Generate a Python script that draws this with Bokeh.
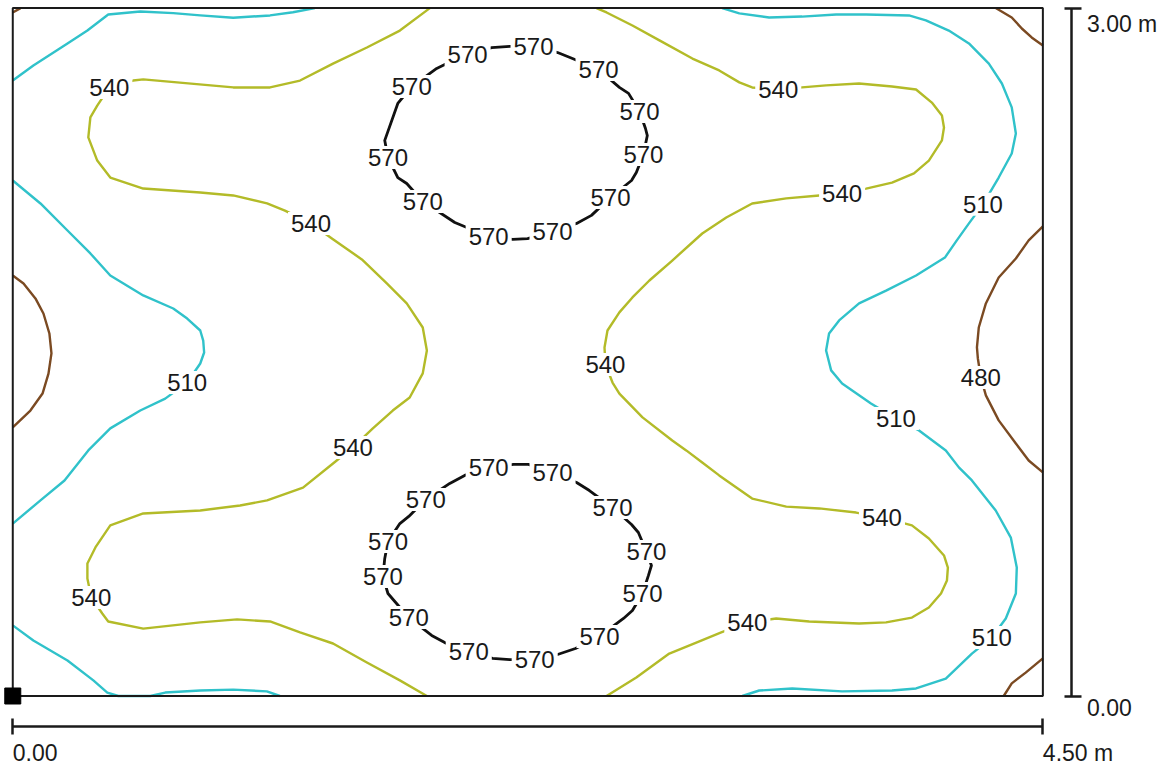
from bokeh.plotting import figure
from bokeh.models import Range1d, LinearAxis, FixedTicker, ColumnDataSource
from bokeh.core.properties import value
from bokeh.embed import file_html
from bokeh.resources import INLINE

# Room size (m)
room_width = 4.50
room_depth = 3.00

# Scale bar ticks and their labels
x_ticks = [0.0, 4.50]
x_tick_labels = ["0.00", "4.50 m"]
y_ticks = [0.0, 3.00]
y_tick_labels = ["0.00", "3.00 m"]

# Isolines (x, y in m), one list per line, grouped by illuminance level (lx)
iso480_x = [
    [0.000, 0.034],
    [0.000, 0.047, 0.099, 0.134, 0.160, 0.169, 0.156, 0.130, 0.077, 0.000],
    [4.294, 4.364, 4.408, 4.451, 4.500],
    [4.500, 4.438, 4.382, 4.307, 4.251, 4.220, 4.212, 4.216, 4.229, 4.251, 4.307, 4.382, 4.438, 4.500],
    [4.500, 4.425, 4.364, 4.329],
]
iso480_y = [
    [2.981, 3.000],
    [1.834, 1.799, 1.734, 1.668, 1.581, 1.494, 1.406, 1.319, 1.245, 1.171],
    [3.000, 2.959, 2.911, 2.872, 2.837],
    [2.048, 1.987, 1.908, 1.825, 1.712, 1.607, 1.520, 1.472, 1.389, 1.311, 1.202, 1.101, 1.027, 0.975],
    [0.164, 0.102, 0.055, 0.000],
]

iso510_x = [
    [0.000, 0.090, 0.239, 0.326, 0.417, 0.557, 0.701, 0.819, 0.963, 1.124, 1.224, 1.320],
    [0.000, 0.121, 0.239, 0.339, 0.426, 0.570, 0.701, 0.762, 0.819, 0.832, 0.836, 0.819,
     0.762, 0.666, 0.557, 0.426, 0.330, 0.226, 0.121, 0.000],
    [0.000, 0.090, 0.239, 0.352, 0.413, 0.461, 0.601, 0.666, 0.819, 0.963, 1.110, 1.167],
    [3.099, 3.174, 3.304, 3.448, 3.597, 3.728, 3.915, 3.989, 4.089, 4.177, 4.264, 4.321,
     4.364, 4.382, 4.364, 4.307, 4.238, 4.177, 4.124, 4.072, 3.946, 3.815, 3.697, 3.610,
     3.566, 3.553, 3.575, 3.623, 3.749, 3.858, 3.959, 4.076, 4.133, 4.190, 4.294, 4.360,
     4.386, 4.382, 4.338, 4.277, 4.190, 4.076, 3.946, 3.841, 3.623, 3.405, 3.261, 3.187],
]
iso510_y = [
    [2.684, 2.750, 2.846, 2.902, 2.972, 2.985, 2.978, 2.968, 2.958, 2.968, 2.982, 3.000],
    [2.248, 2.148, 2.030, 1.930, 1.834, 1.747, 1.690, 1.646, 1.594, 1.550, 1.498, 1.450,
     1.367, 1.297, 1.245, 1.167, 1.071, 0.940, 0.853, 0.752],
    [0.308, 0.242, 0.155, 0.068, 0.015, 0.000, 0.000, 0.015, 0.024, 0.028, 0.020, 0.000],
    [3.000, 2.977, 2.959, 2.963, 2.972, 2.972, 2.968, 2.946, 2.902, 2.846, 2.758, 2.671,
     2.567, 2.453, 2.366, 2.261, 2.144, 2.061, 1.987, 1.912, 1.834, 1.768, 1.712, 1.638,
     1.581, 1.507, 1.420, 1.363, 1.276, 1.210, 1.158, 1.071, 0.997, 0.940, 0.809, 0.691,
     0.560, 0.447, 0.338, 0.255, 0.185, 0.076, 0.033, 0.024, 0.020, 0.033, 0.024, 0.000],
]

iso540_x = [
    [1.822, 1.691, 1.547, 1.399, 1.255, 1.124, 0.963, 0.570, 0.526, 0.422, 0.369, 0.339,
     0.330, 0.369, 0.426, 0.570, 0.819, 0.963, 1.111, 1.189, 1.303, 1.394, 1.525, 1.634,
     1.721, 1.791, 1.809, 1.791, 1.734, 1.660, 1.573, 1.486, 1.399, 1.268, 1.111, 0.993,
     0.819, 0.570, 0.426, 0.361, 0.326, 0.326, 0.343, 0.391, 0.417, 0.570, 0.819, 0.980,
     1.124, 1.255, 1.399, 1.547, 1.691, 1.809],
    [2.550, 2.594, 2.707, 2.825, 2.969, 3.086, 3.174, 3.230, 3.344, 3.448, 3.553, 3.697,
     3.841, 3.946, 4.015, 4.059, 4.068, 4.059, 4.002, 3.937, 3.841, 3.728, 3.623, 3.523,
     3.379, 3.230, 3.117, 3.012, 2.881, 2.781, 2.707, 2.650, 2.598, 2.585, 2.589, 2.620,
     2.650, 2.751, 2.881, 2.942, 3.012, 3.086, 3.161, 3.230, 3.379, 3.523, 3.684, 3.797,
     3.928, 4.002, 4.068, 4.085, 4.081, 4.055, 4.002, 3.928, 3.815, 3.697, 3.479, 3.335,
     3.209, 3.095, 2.986, 2.868, 2.724, 2.594],
]
iso540_y = [
    [3.000, 2.902, 2.828, 2.758, 2.684, 2.654, 2.654, 2.689, 2.684, 2.654, 2.575, 2.523,
     2.436, 2.335, 2.261, 2.213, 2.196, 2.183, 2.148, 2.117, 2.061, 1.995, 1.904, 1.799,
     1.712, 1.607, 1.507, 1.407, 1.302, 1.245, 1.167, 1.084, 1.014, 0.909, 0.853, 0.831,
     0.809, 0.796, 0.744, 0.648, 0.578, 0.512, 0.430, 0.360, 0.325, 0.294, 0.321, 0.334,
     0.325, 0.277, 0.229, 0.146, 0.068, 0.000],
    [3.000, 2.981, 2.924, 2.859, 2.780, 2.728, 2.676, 2.654, 2.645, 2.654, 2.663, 2.671,
     2.658, 2.645, 2.588, 2.532, 2.479, 2.423, 2.335, 2.279, 2.239, 2.213, 2.192, 2.183,
     2.170, 2.148, 2.087, 2.017, 1.899, 1.812, 1.738, 1.673, 1.594, 1.520, 1.446, 1.367,
     1.319, 1.215, 1.114, 1.071, 1.018, 0.962, 0.909, 0.861, 0.826, 0.818, 0.800, 0.779,
     0.744, 0.687, 0.613, 0.560, 0.504, 0.447, 0.386, 0.342, 0.321, 0.316, 0.325, 0.338,
     0.321, 0.277, 0.233, 0.185, 0.081, 0.000],
]

iso570_x = [
    [1.987, 2.092, 2.171, 2.275, 2.380, 2.445, 2.559, 2.650, 2.690, 2.738, 2.764, 2.772,
     2.755, 2.724, 2.703, 2.611, 2.528, 2.463, 2.358, 2.249, 2.184, 2.079, 1.931, 1.791,
     1.721, 1.682, 1.639, 1.625, 1.682, 1.743, 1.852, 1.896, 1.987],
    [2.079, 2.188, 2.253, 2.358, 2.463, 2.519, 2.620, 2.703, 2.733, 2.768, 2.790, 2.777,
     2.751, 2.707, 2.668, 2.563, 2.458, 2.380, 2.280, 2.171, 2.096, 1.992, 1.887, 1.830,
     1.730, 1.669, 1.639, 1.617, 1.625, 1.639, 1.691, 1.730, 1.804, 1.909, 1.974, 2.079],
]
iso570_y = [
    [2.798, 2.828, 2.833, 2.833, 2.806, 2.780, 2.732, 2.654, 2.628, 2.549, 2.475, 2.444,
     2.362, 2.283, 2.248, 2.174, 2.096, 2.061, 2.026, 1.995, 1.991, 2.004, 2.065, 2.157,
     2.235, 2.261, 2.348, 2.423, 2.584, 2.658, 2.737, 2.758, 2.798],
    [0.997, 1.010, 1.010, 0.975, 0.931, 0.896, 0.822, 0.748, 0.713, 0.630, 0.569, 0.526,
     0.447, 0.373, 0.338, 0.260, 0.207, 0.181, 0.159, 0.159, 0.164, 0.194, 0.233, 0.264,
     0.342, 0.412, 0.447, 0.521, 0.600, 0.674, 0.752, 0.783, 0.857, 0.927, 0.962, 0.997],
]

# Isoline labels (positions in m)
label480_x = [4.229]
label480_y = [1.389]
label510_x = [0.762, 4.238, 3.858, 4.277]
label510_y = [1.367, 2.144, 1.210, 0.255]
label540_x = [0.422, 1.303, 1.486, 0.343, 3.344, 3.623, 2.589, 3.797, 3.209]
label540_y = [2.654, 2.061, 1.084, 0.430, 2.645, 2.192, 1.446, 0.779, 0.321]
label570_x = [1.987, 2.275, 2.559, 2.738, 2.755, 2.611, 2.358, 2.079, 1.791, 1.639, 1.743,
              2.079, 2.358, 2.620, 2.768, 2.751, 2.563, 2.280, 1.992, 1.730, 1.617, 1.639, 1.804]
label570_y = [2.798, 2.833, 2.732, 2.549, 2.362, 2.174, 2.026, 2.004, 2.157, 2.348, 2.658,
              0.997, 0.975, 0.822, 0.630, 0.447, 0.260, 0.159, 0.194, 0.342, 0.521, 0.674, 0.857]

FONT = "Liberation Sans"
INK = "#1a1a1a"
levels = [
    (480, iso480_x, iso480_y, label480_x, label480_y, "#7b4a22", 2.4),
    (510, iso510_x, iso510_y, label510_x, label510_y, "#30c2ca", 2.4),
    (540, iso540_x, iso540_y, label540_x, label540_y, "#b3bb28", 2.4),
    (570, iso570_x, iso570_y, label570_x, label570_y, "#111111", 2.8),
]

# Where the two scale bars sit, outside the room outline
x_bar_at = -0.133
y_bar_at = 4.627

p = figure(width=1168, height=767,
           x_range=Range1d(-0.0536, 5.0488), y_range=Range1d(-0.3118, 3.0331),
           x_axis_type=None, y_axis_type=None,
           toolbar_location=None, output_backend="svg",
           min_border=0, outline_line_color=None,
           background_fill_color="white", border_fill_color="white")

for level, xs, ys, lx, ly, color, width in levels:
    p.multi_line(xs=xs, ys=ys, line_color=color, line_width=width,
                 line_join="round", line_cap="butt")

for level, xs, ys, lx, ly, color, width in levels:
    src = ColumnDataSource(dict(x=lx, y=ly, text=[str(level)] * len(lx)))
    p.text(x="x", y="y", text="text", source=src,
           text_font=value(FONT), text_font_size="24px", text_color=INK,
           text_align="center", text_baseline="middle",
           background_fill_color="white", padding=3)

# Room outline and reference point
p.quad(left=[0], right=[room_width], bottom=[0], top=[room_depth],
       fill_color=None, line_color=INK, line_width=2)
p.scatter(x=[0], y=[0], marker="square", size=16, color="black")

# Scale bars
x_bar = LinearAxis(fixed_location=x_bar_at, ticker=FixedTicker(ticks=x_ticks),
                   bounds=(0, room_width), axis_line_width=2.5, axis_line_color=INK,
                   major_tick_line_width=2.5, major_tick_line_color=INK,
                   major_tick_in=8, major_tick_out=8, minor_tick_line_color=None,
                   major_label_text_color=None)
y_bar = LinearAxis(fixed_location=y_bar_at, ticker=FixedTicker(ticks=y_ticks),
                   bounds=(0, room_depth), axis_line_width=2.5, axis_line_color=INK,
                   major_tick_line_width=2.5, major_tick_line_color=INK,
                   major_tick_in=7, major_tick_out=10, minor_tick_line_color=None,
                   major_label_text_color=None)
p.add_layout(x_bar, "below")
p.add_layout(y_bar, "right")

p.text(x=x_ticks, y=[x_bar_at] * len(x_ticks), text=x_tick_labels,
       text_font=value(FONT), text_font_size="23px", text_color=INK,
       text_align="left", text_baseline="middle", y_offset=26)
p.text(x=[y_bar_at] * len(y_ticks), y=y_ticks, text=y_tick_labels,
       text_font=value(FONT), text_font_size="23px", text_color=INK,
       text_align="left", text_baseline="top", x_offset=15, y_offset=3)

open("out.html", "w").write(file_html(p, INLINE))
